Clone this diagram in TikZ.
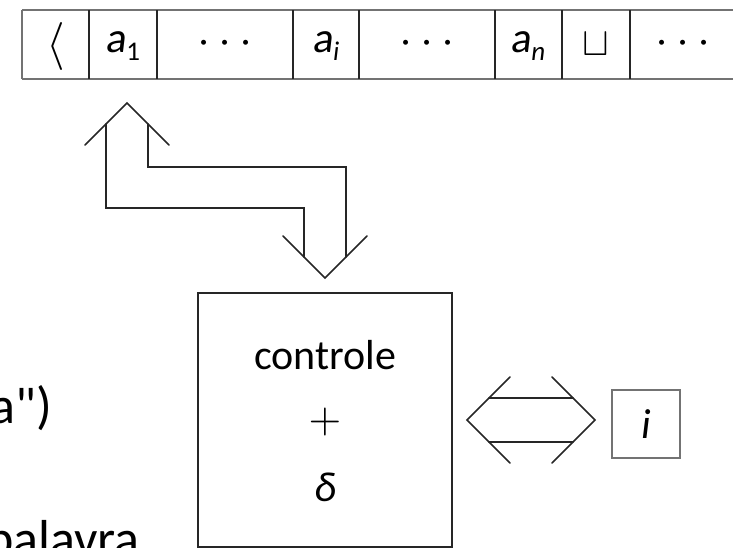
\documentclass[tikz,border=0pt]{standalone}
\usepackage{fontspec}
\setmainfont{Carlito}
\newfontfamily\slantfont{Carlito}[FakeSlant=0.12]
\begin{document}
\begin{tikzpicture}[x=1pt,y=-1pt,
  tapeline/.style={draw=black!55,line width=2.2pt},
  divider/.style={draw=black!85,line width=1.6pt},
  arrowline/.style={draw=black!85,line width=1.6pt,line cap=round,line join=miter},
  celltext/.style={inner sep=0pt,font=\fontsize{43}{43}\selectfont},
  symtext/.style={inner sep=0pt,font=\fontsize{10}{10}\selectfont},
  bigtext/.style={inner sep=0pt,font=\fontsize{52}{52}\selectfont},
  boxtext/.style={inner sep=0pt,font=\fontsize{42}{42}\selectfont}]
\useasboundingbox (0,0) rectangle (737,547);
\clip (0,0) rectangle (737,547);
% tape
\draw[tapeline] (22,10) -- (733,10);
\draw[tapeline] (22,79) -- (733,79);
\draw[tapeline] (22,10) -- (22,79);
\foreach \x in {89,157,293,359,495,562,630}
  \draw[divider] (\x,10) -- (\x,79);
\node[symtext] (c0) at (55.5,46) {\scalebox{4.8}{$\langle$}};
\node[celltext,anchor=base] (c1) at (123,52) {{\slantfont a}\raisebox{-0.2em}{\fontsize{27}{27}\selectfont 1}};
\node[symtext] (c2) at (225,44) {\scalebox{4.7}{$\cdots$}};
\node[celltext,anchor=base] (c3) at (326,52) {{\slantfont a}\raisebox{-0.2em}{\fontsize{27}{27}\selectfont\textit{i}}};
\node[symtext] (c4) at (427,44) {\scalebox{4.7}{$\cdots$}};
\node[celltext,anchor=base] (c5) at (528,52) {{\slantfont a}\raisebox{-0.2em}{\fontsize{27}{27}\selectfont\textit{n}}};
\node[symtext] (c6) at (596,44) {\scalebox{4}{$\sqcup$}};
\node[symtext] (c7) at (683,44) {\scalebox{4.7}{$\cdots$}};
% control box
\node[draw=black!85,line width=1.6pt,minimum width=254pt,minimum height=254pt,inner sep=0pt] (ctrl) at (325,420) {};
\node[boxtext,anchor=base] (ctl) at (325,369) {controle};
\node[symtext] (plus) at (325,422) {\scalebox{4.2}{$+$}};
\node[boxtext] (delta) at (325,487) {\textit{δ}};
% i register
\node[draw=black!55,line width=1.8pt,minimum width=68pt,minimum height=68pt,inner sep=0pt,font=\fontsize{42}{42}\selectfont] (reg) at (646,424) {\textit{i}};
% double arrow tape <-> control
\coordinate (upapex) at (127,103);
\coordinate (dnapex) at (325,278);
\draw[arrowline] (85,145) -- (upapex) -- (169,145);
\draw[arrowline] (283,236) -- (dnapex) -- (367,236);
\draw[arrowline] (106,124) -- (106,208) -- (304,208) -- (304,257);
\draw[arrowline] (148,124) -- (148,167) -- (346,167) -- (346,257);
% double arrow control <-> i
\coordinate (lapex) at (467,420);
\coordinate (rapex) at (595,420);
\draw[arrowline] (510,377) -- (lapex) -- (510,463);
\draw[arrowline] (552,377) -- (rapex) -- (552,463);
\draw[arrowline] (489,398) -- (573,398);
\draw[arrowline] (489,442) -- (573,442);
% cropped slide text
\node[bigtext,anchor=base east] (t1) at (52,423) {a\textquotedbl)};
\node[bigtext,anchor=base east] (t2) at (140,556) {palavra};
\end{tikzpicture}
\end{document}
